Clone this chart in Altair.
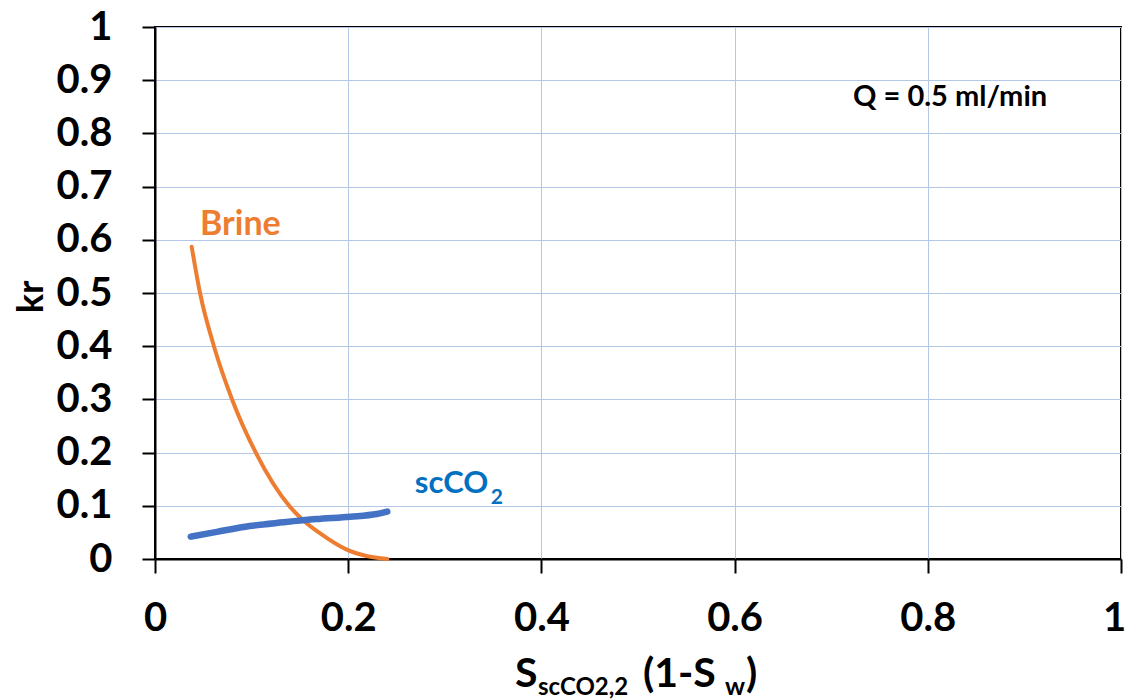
import altair as alt
import pandas as pd

# --- data ---
brine_x = [0.038, 0.0466, 0.061, 0.080, 0.1046, 0.1398, 0.154, 0.171, 0.198, 0.219, 0.2405]
brine_y = [0.587, 0.500, 0.400, 0.299, 0.199, 0.098, 0.072, 0.048, 0.018, 0.0056, 0.0]

co2_x = [0.037, 0.064, 0.098, 0.133, 0.167, 0.202, 0.2295, 0.2405]
co2_y = [0.042, 0.051, 0.062, 0.069, 0.075, 0.0795, 0.0846, 0.089]

x_ticks = [0, 0.2, 0.4, 0.6, 0.8, 1]
y_ticks = [0, 0.1, 0.2, 0.3, 0.4, 0.5, 0.6, 0.7, 0.8, 0.9, 1]

series_names = ["Brine", "scCO2"]
series_colors = ["#ED7D31", "#4472C4"]

FONT = "Lato"
W, H = 966, 532

df = pd.concat([
    pd.DataFrame({"x": brine_x, "y": brine_y, "s": "Brine", "o": range(len(brine_x))}),
    pd.DataFrame({"x": co2_x, "y": co2_y, "s": "scCO2", "o": range(len(co2_x))}),
])

xscale = alt.Scale(domain=[0, 1], nice=False, zero=False)
yscale = alt.Scale(domain=[0, 1], nice=False, zero=False)
cscale = alt.Scale(domain=series_names, range=series_colors)

xaxis = alt.Axis(values=x_ticks, format="~g", title=None, tickSize=14,
                 labelPadding=25, grid=True, labelFlush=False,
                 labelOffset={"condition": {"test": "datum.value >= 1", "value": -7}, "value": 0})
yaxis = alt.Axis(values=y_ticks, format="~g", title=None, tickSize=13,
                 labelPadding=30, grid=True, labelFlush=False)

base = alt.Chart(df)

brine_line = base.transform_filter(alt.datum.s == "Brine").mark_line(
    strokeWidth=4, interpolate="monotone", strokeCap="round", clip=False
).encode(
    x=alt.X("x:Q", scale=xscale, axis=xaxis),
    y=alt.Y("y:Q", scale=yscale, axis=yaxis),
    order="o:Q",
    color=alt.Color("s:N", scale=cscale, legend=None),
)

co2_line = base.transform_filter(alt.datum.s == "scCO2").mark_line(
    strokeWidth=6.5, interpolate="monotone", strokeCap="round", clip=False
).encode(
    x=alt.X("x:Q", scale=xscale),
    y=alt.Y("y:Q", scale=yscale),
    order="o:Q",
    color=alt.Color("s:N", scale=cscale, legend=None),
)

# annotation labels, placed in data coordinates
ann = pd.DataFrame({
    "x": [0.0466, 0.269, 0.3475, 0.7226],
    "y": [0.609, 0.124, 0.103, 0.8515],
    "t": ["Brine", "scCO", "2", "Q = 0.5 ml/min"],
    "c": ["#ED7D31", "#0070C0", "#0070C0", "#000000"],
    "fs": [34, 31, 21, 29],
})
ann_layer = alt.Chart(ann).mark_text(
    align="left", baseline="alphabetic", font=FONT, fontWeight="bold"
).encode(
    x=alt.X("x:Q", scale=xscale),
    y=alt.Y("y:Q", scale=yscale),
    text="t:N",
    color=alt.Color("c:N", scale=None),
    size=alt.Size("fs:Q", scale=None),
)

# axis titles (rich text composed of pieces)
def piece(txt, px, py, fs, angle=0, align="left"):
    return alt.Chart(pd.DataFrame({"t": [txt]})).mark_text(
        align=align, baseline="alphabetic", font=FONT, fontWeight="bold",
        fontSize=fs, color="black", angle=angle
    ).encode(text="t:N", x=alt.value(px), y=alt.value(py))

title_layers = [
    piece("S", 360, 660, 41),
    piece("scCO2,2", 383, 668, 24),
    piece("(1-S", 488, 660, 41),
    piece("w", 570, 668, 25),
    piece(")", 591, 660, 41),
    alt.Chart(pd.DataFrame({"t": ["kr"]})).mark_text(
        align="center", baseline="middle", font=FONT, fontWeight="bold",
        fontSize=36, color="black", angle=270
    ).encode(text="t:N", x=alt.value(-123), y=alt.value(270)),
]

chart = alt.layer(brine_line, co2_line, ann_layer, *title_layers).properties(
    width=W, height=H,
    autosize=alt.AutoSizeParams(type="none"),
    padding={"left": 147, "top": 19, "right": 6, "bottom": 141},
).configure_view(
    stroke="black", strokeWidth=2
).configure_axis(
    labelFont=FONT, labelFontSize=40, labelFontWeight="bold", labelColor="black",
    tickColor="black", tickWidth=2, domainColor="black", domainWidth=2,
    gridColor="#B4C7E7", gridWidth=1, gridOpacity=1,
)

chart.save("out.html", embed_options={"renderer": "svg", "actions": False})
